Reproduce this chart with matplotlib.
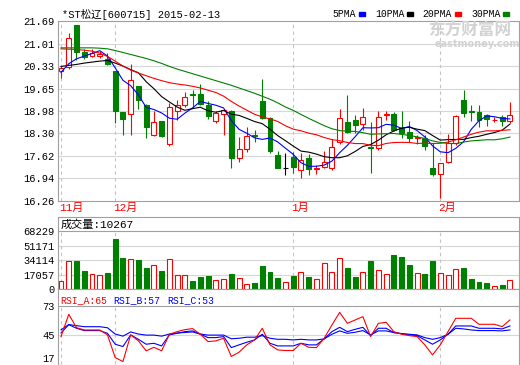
import matplotlib
matplotlib.use('Agg')
import matplotlib.pyplot as plt
from matplotlib.transforms import blended_transform_factory
from matplotlib.patches import Rectangle
import numpy as np
import pandas as pd

plt.rcParams['font.family'] = ['Liberation Mono', 'Noto Sans CJK SC', 'DejaVu Sans']

# daily candles, *ST松辽 600715, 2014-11-20 .. 2015-02-13
opens = [20.19, 20.30, 21.56, 20.75, 20.63, 20.62, 20.53, 20.17, 18.93, 18.87,
         19.73, 19.15, 18.24, 18.67, 17.99, 18.99, 19.16, 19.48, 19.48, 19.16,
         18.66, 18.88, 18.98, 17.56, 17.84, 18.24, 19.29, 18.76, 17.64, 17.27,
         17.59, 17.21, 17.57, 17.22, 17.29, 17.26, 18.05, 18.63, 18.70, 18.57,
         17.90, 17.85, 18.84, 18.89, 18.45, 18.35, 18.15, 18.15, 17.26, 17.06,
         17.44, 18.02, 19.31, 18.98, 18.93, 18.86, 18.69, 18.79, 18.66]
highs = [20.34, 21.33, 21.56, 20.86, 20.85, 20.80, 20.72, 20.17, 18.93, 20.39,
         19.73, 19.18, 18.98, 18.68, 19.23, 19.30, 19.56, 19.61, 19.79, 19.28,
         18.96, 19.03, 19.00, 18.18, 18.48, 18.40, 19.95, 18.80, 17.77, 17.72,
         17.74, 17.71, 17.67, 17.34, 17.76, 18.12, 19.03, 19.46, 18.86, 19.06,
         18.63, 18.96, 18.98, 18.95, 18.96, 18.66, 18.25, 18.25, 18.00, 17.42,
         18.27, 18.86, 19.61, 19.17, 19.16, 18.88, 18.80, 18.85, 19.26]
lows = [19.97, 20.25, 20.52, 20.53, 20.60, 20.58, 20.35, 18.61, 18.26, 18.24,
        19.04, 18.17, 18.21, 18.20, 17.91, 18.70, 19.10, 19.07, 19.15, 18.73,
        18.60, 18.24, 17.26, 17.44, 17.74, 18.05, 18.73, 17.70, 17.25, 17.04,
        17.11, 16.94, 17.05, 17.07, 17.27, 17.20, 17.98, 18.30, 18.31, 18.40,
        17.09, 17.80, 18.70, 18.38, 18.15, 18.05, 17.98, 17.79, 17.02, 16.35,
        17.40, 17.95, 18.80, 18.66, 18.50, 18.52, 18.64, 18.52, 18.62]
closes = [20.28, 21.18, 20.76, 20.61, 20.72, 20.70, 20.38, 18.97, 18.74, 19.90,
          19.32, 18.49, 18.65, 18.22, 19.11, 19.16, 19.41, 19.45, 19.18, 18.81,
          18.90, 19.00, 17.56, 17.84, 18.22, 18.21, 18.76, 17.77, 17.25, 17.27,
          17.29, 17.49, 17.24, 17.25, 17.44, 17.90, 18.76, 18.35, 18.55, 18.79,
          17.87, 18.79, 18.87, 18.41, 18.31, 18.15, 18.18, 17.92, 17.06, 17.41,
          18.02, 18.83, 18.91, 18.94, 18.71, 18.74, 18.71, 18.66, 18.86]
volumes = [9475, 33350, 33350, 20845, 18190, 17055, 18950, 58370, 36760, 35250,
           34490, 24260, 28425, 20845, 35250, 15920, 17055, 9475, 14020, 15160,
           10230, 12130, 17430, 12500, 5685, 7200, 26530, 19710, 12890, 7960,
           15160, 19710, 14020, 11370, 30700, 19710, 36380, 24260, 14020, 20470,
           33350, 22740, 18190, 40170, 37900, 28800, 19330, 17430, 33350, 19330,
           15920, 23880, 24260, 11750, 8340, 7200, 3410, 4930, 10267]

# moving-average values before the window is filled
ma5_head = [20.14, 20.40, 20.55, 20.63]
ma10_head = [20.32, 20.35, 20.38, 20.42, 20.45, 20.48, 20.50, 20.42, 20.33]
ma20_head = [20.85, 20.84, 20.83, 20.81, 20.78, 20.72, 20.62, 20.48, 20.33, 20.21,
             20.12, 20.04, 19.96, 19.89, 19.83, 19.79, 19.76, 19.72, 19.67]
ma30_head = [20.88, 20.88, 20.88, 20.88, 20.88, 20.87, 20.85, 20.80, 20.74, 20.68,
             20.62, 20.56, 20.49, 20.41, 20.32, 20.24, 20.17, 20.10, 20.03, 19.96,
             19.89, 19.82, 19.75, 19.67, 19.59, 19.51, 19.42, 19.33, 19.22]

rsi_a = [43.6, 64.8, 52.1, 49.9, 49.9, 49.9, 45.2, 23.6, 19.8, 45.2,
         39.5, 30.0, 33.4, 30.0, 45.8, 48.3, 50.2, 51.2, 45.8, 38.8,
         39.5, 42.0, 24.6, 28.7, 35.7, 40.4, 51.5, 35.7, 30.9, 30.3,
         30.3, 37.2, 33.4, 33.1, 42.0, 54.6, 66.7, 56.2, 59.4, 62.6,
         43.6, 56.2, 57.2, 48.3, 45.8, 44.5, 43.6, 35.7, 26.2, 35.7,
         48.3, 61.0, 61.0, 61.0, 55.3, 55.3, 55.3, 53.1, 59.4]
rsi_b = [47, 55, 51.5, 49.3, 49.3, 49.3, 46.7, 36.3, 34.1, 45.2,
         41, 36.3, 37.2, 34.7, 45.2, 46.7, 48.3, 49, 45.8, 42.6,
         42.6, 43.6, 33.1, 35.7, 38.2, 40.4, 45.8, 37.2, 34.7, 34.7,
         34.7, 37.2, 35.7, 35.7, 41.4, 48.3, 52.4, 48.3, 50.5, 52.4,
         44.5, 51.5, 51.5, 47.4, 46.4, 45.2, 44.5, 40.4, 36.3, 40.4,
         45.8, 53.7, 53.7, 53.7, 51.5, 51.5, 51.5, 50.9, 53.7]
rsi_c = [50, 55, 54, 53, 53, 53, 52, 46, 44, 48,
         46, 45, 45, 44, 46, 47, 47.5, 48, 46, 45,
         45, 45, 41.5, 42, 43, 43, 44.5, 42, 41, 41,
         40.4, 41, 40.4, 40.4, 41.4, 45.8, 49, 46.7, 47.7, 49.3,
         45.2, 49, 49, 47.4, 46.4, 45.8, 45.2, 42.6, 41, 42.6,
         45.8, 51.5, 50.9, 49.9, 49.3, 49.3, 49.3, 49, 49.9]

price_ticks = [21.69, 21.01, 20.33, 19.65, 18.98, 18.30, 17.62, 16.94, 16.26]
vol_ticks = [0, 17057, 34114, 51171, 68229]
rsi_ticks = [17, 45, 73]
month_pos = [0, 7, 30, 49]
month_labels = ['11月', '12月', '1月', '2月']
ma_names = ['5PMA', '10PMA', '20PMA', '30PMA']

RED = '#ff0000'
GREEN = '#008000'
BLUE = '#0000ff'
BORDER = '#a0a0a0'
GRID = '#d6d6d6'
DASH = '#c4c4c4'

W, H = 520, 365
fig = plt.figure(figsize=(W / 100, H / 100), dpi=100)


def px_axes(x0, y0, x1, y1):
    return fig.add_axes([x0 / W, 1 - y1 / H, (x1 - x0) / W, (y1 - y0) / H])


def style(ax):
    for s in ax.spines.values():
        s.set_color(BORDER)
        s.set_linewidth(0.8)
    ax.set_xticks([])
    ax.tick_params(axis='y', length=0, pad=2.5, labelsize=7.5)
    ax.set_xlim(-0.39, 59.17)


x = np.arange(len(closes))
o = np.array(opens)
c = np.array(closes)
h = np.array(highs)
l = np.array(lows)
up = c > o
down = c < o
flat = c == o
cand_col = np.where(up, RED, np.where(down, GREEN, 'black'))
bw = 0.64

# ---------------- price panel
ax = px_axes(58, 21, 519, 201)
style(ax)
ax.set_ylim(16.26, 21.69)
ax.set_yticks(price_ticks)
ax.set_yticklabels(['%.2f' % t for t in price_ticks])
for t in price_ticks[1:-1]:
    ax.axhline(t, color=GRID, lw=0.8, zorder=0)
for p in month_pos:
    ax.axvline(p, color=DASH, lw=0.8, ls=(0, (3, 3)), zorder=0)

ax.vlines(x, l, h, colors=cand_col, lw=0.8, zorder=2)
bot = np.minimum(o, c)
hgt = np.abs(c - o)
ax.bar(x[up], hgt[up], bottom=bot[up], width=bw, facecolor='white',
       edgecolor=RED, lw=0.8, zorder=3)
ax.bar(x[down], hgt[down], bottom=bot[down], width=bw, facecolor=GREEN,
       edgecolor=GREEN, lw=0.8, zorder=3)
ax.hlines(c[flat], x[flat] - bw / 2, x[flat] + bw / 2, colors='black', lw=0.8, zorder=3)

close_s = pd.Series(closes)
ma_cols = [BLUE, 'black', RED, GREEN]
for n, head, col in zip([5, 10, 20, 30], [ma5_head, ma10_head, ma20_head, ma30_head], ma_cols):
    m = close_s.rolling(n).mean().to_numpy()
    m[:n - 1] = head
    ax.plot(x, m, color=col, lw=0.8, zorder=4)

trans = blended_transform_factory(ax.transData, ax.transAxes)
for p, lab in zip(month_pos, month_labels):
    ax.text(p - 0.3, -0.04, lab, transform=trans, color=RED, fontsize=8,
            ha='left', va='center')

# ---------------- volume panel
vtop = 68229 * 72 / 58
axv = px_axes(58, 217, 519, 289)
style(axv)
axv.set_ylim(0, vtop)
axv.set_yticks(vol_ticks)
axv.set_yticklabels([str(t) for t in vol_ticks])
for t in vol_ticks[1:-1]:
    axv.axhline(t, color=GRID, lw=0.8, zorder=0)
axv.axhline(vol_ticks[-1], color=BORDER, lw=0.8, zorder=1)
axv.vlines(month_pos, 0, vol_ticks[-1], colors=DASH, lw=0.8, linestyles=(0, (3, 3)), zorder=0)
v = np.array(volumes)
vup = c >= o
axv.bar(x[vup], v[vup], width=bw, facecolor='white', edgecolor=RED, lw=0.8, zorder=3)
axv.bar(x[~vup], v[~vup], width=bw, facecolor=GREEN, edgecolor=GREEN, lw=0.8, zorder=3)
axv.text(0.005, 0.9, '成交量:%d' % volumes[-1], transform=axv.transAxes,
         fontsize=8, ha='left', va='center')

# ---------------- RSI panel
rtop = 73 + 16.7 / 58.8 * 56
axr = px_axes(58, 289, 519, 364.5)
style(axr)
axr.set_ylim(17, rtop)
axr.set_yticks(rsi_ticks)
axr.set_yticklabels([str(t) for t in rsi_ticks])
axr.get_yticklabels()[0].set_va('bottom')
axr.axhline(45, color=GRID, lw=0.8, zorder=0)
axr.axhline(73, color=BORDER, lw=0.8, zorder=1)
axr.vlines(month_pos, 17, 73, colors=DASH, lw=0.8, linestyles=(0, (3, 3)), zorder=0)
axr.plot(x, rsi_c, color=BLUE, lw=0.8, zorder=3)
axr.plot(x, rsi_b, color=BLUE, lw=0.8, zorder=3)
axr.plot(x, rsi_a, color=RED, lw=0.8, zorder=4)
for xp, lab, col in [(60, 'RSI_A:65', RED), (113, 'RSI_B:57', BLUE), (167, 'RSI_C:53', BLUE)]:
    fig.text(xp / W, 1 - 300 / H, lab, color=col, fontsize=7, ha='left', va='center')

# ---------------- title, legend, watermark
fig.text(62 / W, 1 - 14 / H, '*ST松辽[600715] 2015-02-13', fontsize=7.5,
         ha='left', va='center')
for xp, sq, lab, col in zip([332, 375, 422, 471], [359, 407, 455, 503], ma_names, ma_cols):
    fig.text(xp / W, 1 - 14 / H, lab, fontsize=7, ha='left', va='center')
    fig.patches.append(Rectangle((sq / W, 1 - 16 / H), 6 / W, 3.5 / H,
                                 transform=fig.transFigure, color=col))
fig.text(470 / W, 1 - 31 / H, '东方财富网', fontsize=12, color='#d2d2d2',
         fontweight='bold', family=['Noto Sans CJK SC'], ha='center', va='center')
fig.text(477 / W, 1 - 44 / H, 'eastmoney.com', fontsize=7, color='#d2d2d2',
         fontweight='bold', family=['DejaVu Sans'], ha='center', va='center')

fig.savefig('out.png', dpi=100)
